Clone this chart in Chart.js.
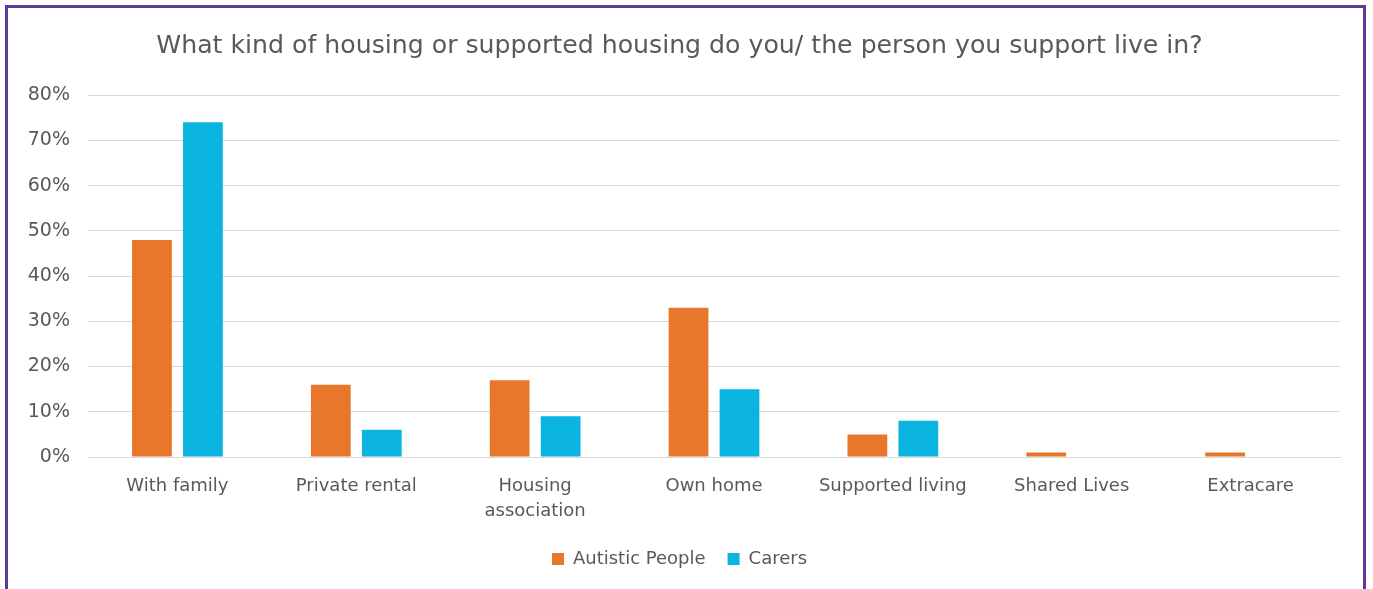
<!DOCTYPE html>
<html>
<head>
<meta charset="utf-8">
<script src="https://cdn.jsdelivr.net/npm/chart.js@4"></script>
<style>
    html, body { margin: 0; padding: 0; background: #fff; overflow: hidden; }
    body { width: 1373px; height: 589px; position: relative; }
    #frame {
        position: absolute; left: 5px; top: 5px;
        width: 1355px; height: 620px;
        border: 3px solid #5a3b98;
    }
    #wrap { position: absolute; left: 0; top: 0; width: 1355px; height: 581px; }
</style>
</head>
<body>
<div id="frame">
    <div id="wrap"><canvas id="chart"></canvas></div>
</div>
<script>
const categories = [
    'With family', 'Private rental', ['Housing', 'association'], 'Own home',
    'Supported living', 'Shared Lives', 'Extracare'
];
const autisticPeople = [48, 16, 17, 33, 5, 1, 1];
const carers = [74, 6, 9, 15, 8, 0, 0];
const yTicks = [0, 10, 20, 30, 40, 50, 60, 70, 80];

const FONT = '"DejaVu Sans", sans-serif';
const GREY = '#595959';

const ctx = document.getElementById('chart').getContext('2d');
new Chart(ctx, {
    type: 'bar',
    data: {
        labels: categories,
        datasets: [
            { label: 'Autistic People', data: autisticPeople, backgroundColor: '#E8762B' },
            { label: 'Carers', data: carers, backgroundColor: '#0BB3E0' }
        ]
    },
    options: {
        responsive: true,
        maintainAspectRatio: false,
        animation: false,
        categoryPercentage: 0.57,
        barPercentage: 0.78,
        layout: { padding: { left: 11, right: 23, top: 0, bottom: 11 } },
        plugins: {
            title: {
                display: true,
                text: 'What kind of housing or supported housing do you/ the person you support live in?',
                color: GREY,
                font: { family: FONT, size: 25.2, weight: 'normal' },
                padding: { top: 23, bottom: 34 }
            },
            legend: {
                position: 'bottom',
                labels: {
                    color: GREY,
                    font: { family: FONT, size: 18 },
                    boxWidth: 12,
                    boxHeight: 12,
                    padding: 22
                }
            },
            tooltip: { enabled: false }
        },
        scales: {
            x: {
                grid: { display: false },
                border: { color: '#d9d9d9' },
                ticks: {
                    color: GREY,
                    font: { family: FONT, size: 18, lineHeight: 1.4 },
                    padding: 9,
                    maxRotation: 0
                },
                afterFit: (scale) => { scale.height = 71; }
            },
            y: {
                min: 0,
                max: 80,
                afterBuildTicks: (scale) => { scale.ticks = yTicks.map(v => ({ value: v })); },
                grid: { color: '#d9d9d9', drawTicks: false },
                border: { display: false },
                ticks: {
                    color: GREY,
                    font: { family: FONT, size: 19 },
                    padding: 18,
                    callback: (v) => v + '%'
                },
                afterFit: (scale) => { scale.width = 69; }
            }
        }
    }
});
</script>
</body>
</html>
